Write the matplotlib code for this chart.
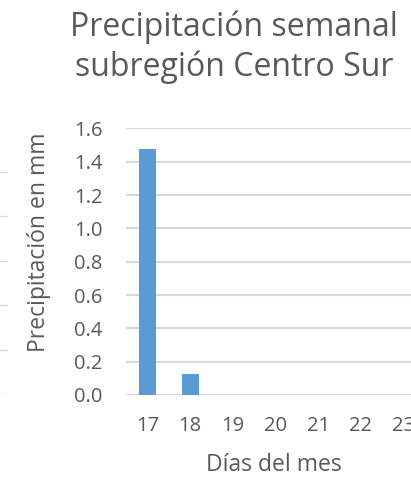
import numpy as np
import matplotlib.pyplot as plt

plt.rcParams['font.family'] = ['Open Sans', 'DejaVu Sans']

dias = ['17', '18', '19', '20', '21', '22', '23']
precipitacion = [1.475, 0.125, 0, 0, 0, 0, 0]
y_ticks = [0.0, 0.2, 0.4, 0.6, 0.8, 1.0, 1.2, 1.4, 1.6]

text_color = '#595959'
grid_color = '#D9D9D9'
bar_color = '#5B9BD5'

W, H = 411, 478
fig = plt.figure(figsize=(W / 100, H / 100), dpi=100)

# piece of the neighbouring chart that shows at the left edge
ax_prev = fig.add_axes([-300 / W, (H - 394) / H, 308 / W, (394 - 171.7) / H])
ax_prev.set_ylim(0, 5)
ax_prev.set_yticks(range(6))
ax_prev.grid(axis='y', color=grid_color, linewidth=1)
ax_prev.tick_params(left=False, bottom=False, labelleft=False, labelbottom=False)
for s in ax_prev.spines.values():
    s.set_visible(False)
ax_prev.set_facecolor('none')

ax = fig.add_axes([126 / W, (H - 395) / H, 299 / W, (395 - 128.5) / H])
x = np.arange(len(dias))
ax.bar(x, precipitacion, width=0.4, color=bar_color, zorder=3)
ax.set_xlim(-0.5, len(dias) - 0.5)
ax.set_ylim(0, 1.6)
ax.set_xticks(x)
ax.set_xticklabels(dias)
ax.set_yticks(y_ticks)
ax.set_yticklabels([f'{v:.1f}' for v in y_ticks])
ax.grid(axis='y', color=grid_color, linewidth=1.5, zorder=0)
ax.tick_params(length=0, labelsize=14.5, labelcolor=text_color)
ax.tick_params(axis='y', pad=17)
ax.tick_params(axis='x', pad=15)
for s in ax.spines.values():
    s.set_visible(False)

ax.set_ylabel('Precipitación en mm', fontsize=16.5, color=text_color, va='center')
ax.yaxis.set_label_coords(-0.29, 0.574)
ax.set_xlabel('Días del mes', fontsize=16.5, color=text_color, va='center')
ax.xaxis.set_label_coords(0.495, -0.263)

fig.text(234 / W, 1 - 10 / H, 'Precipitación semanal\nsubregión Centro Sur',
         ha='center', va='top', fontsize=23, color=text_color, linespacing=1.28)

fig.savefig('out.png', dpi=100)
